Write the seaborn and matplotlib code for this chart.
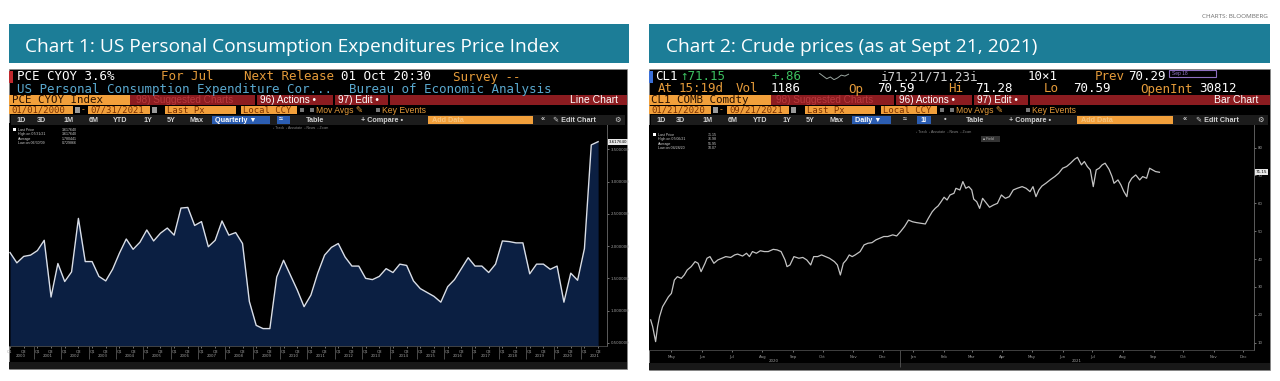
#!/usr/bin/env python3
"""
Recreate the two Bloomberg terminal screenshots (core PCE and crude)
"""

import matplotlib
matplotlib.use("Agg")
import matplotlib.pyplot as plt
from matplotlib.patches import Rectangle
from matplotlib import font_manager as fm
import numpy as np
import pandas as pd
import seaborn as sns

W, H = 1280, 381

# Chart 1: PCE CYOY Index, quarterly from 2000Q1 to 2021Q3
pce_first_year = 2000
pce_values = [1.90, 1.74, 1.84, 1.86, 1.93, 2.09, 1.21, 1.73, 1.45, 1.60,
              2.43, 1.76, 1.76, 1.53, 1.46, 1.64, 1.89, 2.11, 1.95, 2.06,
              2.25, 2.08, 2.20, 2.28, 2.17, 2.59, 2.60, 2.32, 2.38, 1.99,
              2.09, 2.39, 2.17, 2.21, 2.04, 1.14, 0.77, 0.72, 0.72, 1.52,
              1.78, 1.55, 1.32, 1.06, 1.24, 1.58, 1.86, 1.98, 2.04, 1.83,
              1.69, 1.69, 1.50, 1.48, 1.53, 1.65, 1.59, 1.72, 1.70, 1.46,
              1.34, 1.28, 1.22, 1.13, 1.37, 1.48, 1.65, 1.82, 1.69, 1.69,
              1.59, 1.72, 2.08, 2.07, 2.05, 2.05, 1.57, 1.72, 1.72, 1.64,
              1.69, 1.13, 1.58, 1.47, 1.96, 3.57, 3.62]
pce_yticks = [0.5, 1.0, 1.5, 2.0, 2.5, 3.0, 3.5]
pce_last = "3.617640"
pce_legend = [("Last Price", "3.617640"), ("High on 07/31/21", "3.617640"),
              ("Average", "1.780441"), ("Low on 06/30/09", "0.729866")]

# Chart 2: CL1 front-month crude, x = days after crude_base
crude_base = "2020-05-01"
crude_days = [-7, -5, -2, 0, 2, 5, 8, 11, 14, 17,
              20, 24, 27, 30, 34, 38, 41, 44, 48, 50,
              53, 57, 61, 65, 69, 74, 78, 81, 86, 90,
              93, 96, 100, 104, 108, 112, 117, 121, 125, 129,
              131, 134, 138, 143, 147, 151, 155, 158, 162, 166,
              170, 174, 179, 182, 185, 188, 191, 194, 197, 200,
              205, 209, 213, 217, 221, 225, 229, 233, 238, 242,
              246, 250, 254, 258, 262, 267, 271, 274, 278, 281,
              284, 287, 290, 293, 296, 300, 302, 306, 309, 312,
              315, 318, 320, 323, 326, 329, 333, 336, 340, 344,
              348, 352, 356, 360, 364, 369, 373, 377, 380, 383,
              386, 389, 393, 398, 402, 406, 410, 414, 418, 422,
              425, 429, 432, 435, 438, 441, 444, 447, 450, 453,
              457, 460, 462, 466, 469, 472, 475, 477, 480, 484,
              488, 491, 495, 498, 501, 504, 508]
crude_close = [18.2, 15.8, 10.4, 15.8, 19.4, 22.9, 24.7, 26.5, 27.7, 32.5,
               33.7, 33.1, 34.3, 36.1, 37.3, 39.1, 38.5, 35.5, 38.5, 40.3,
               40.9, 38.5, 39.7, 40.3, 40.9, 40.6, 41.5, 41.8, 41.1, 42.1,
               40.9, 42.7, 42.1, 43.0, 42.7, 42.7, 43.5, 43.3, 42.7, 39.7,
               37.3, 37.9, 40.9, 40.3, 40.6, 39.7, 37.9, 40.9, 40.9, 41.5,
               40.9, 40.3, 39.1, 37.9, 34.3, 38.5, 39.7, 41.5, 40.9, 41.5,
               42.7, 45.1, 45.7, 45.9, 46.9, 47.5, 48.1, 48.1, 48.7, 48.3,
               49.9, 51.7, 54.0, 53.4, 53.1, 52.8, 52.6, 54.6, 57.0, 58.2,
               59.1, 60.6, 62.2, 61.2, 63.0, 63.6, 65.4, 64.8, 67.8, 65.4,
               66.0, 64.8, 61.5, 60.6, 58.2, 61.8, 60.0, 58.6, 59.4, 60.0,
               63.0, 61.8, 62.4, 64.8, 65.4, 66.0, 65.4, 64.2, 66.0, 62.4,
               64.8, 66.2, 67.2, 68.6, 69.6, 70.8, 72.6, 73.2, 74.4, 75.8,
               76.5, 73.8, 75.0, 73.2, 72.0, 66.0, 72.0, 72.6, 73.8, 74.4,
               72.2, 69.6, 67.2, 68.4, 66.6, 64.2, 62.4, 67.2, 69.0, 70.2,
               68.4, 69.6, 69.0, 72.6, 72.0, 71.4, 71.15]
crude_yticks = [10, 20, 30, 40, 50, 60, 70, 80]
crude_months = ["May", "Jun", "Jul", "Aug", "Sep", "Oct", "Nov", "Dec",
                "Jan", "Feb", "Mar", "Apr", "May", "Jun", "Jul", "Aug",
                "Sep", "Oct", "Nov", "Dec"]
crude_spark = [71.2, 70.9, 70.6, 70.8, 70.5, 70.7, 71.0, 70.9, 71.1]
crude_legend = [("Last Price", "71.15"), ("High on 07/06/21", "76.98"),
                ("Average", "51.95"), ("Low on 04/28/20", "10.07")]

TEAL = "#1c7d97"
ORANGE = "#f2a03b"
ORANGE_TXT = "#e59b3a"
BOX_TXT = "#7a3000"
RED_BAR = "#8c1c20"
DIM_RED = "#b8393d"
BLUE_TXT = "#5aa9cf"
GREEN = "#3cc060"
BTN_BLUE = "#2b5db2"
TOOL_BG = "#1c1c1c"
TOOL_TXT = "#d2d2d2"
AXIS_TXT = "#a0a0a0"


def pick_font(names, default="DejaVu Sans"):
    """Return the first installed family out of names"""
    for name in names:
        try:
            fm.findfont(fm.FontProperties(family=name), fallback_to_default=False)
            return name
        except Exception:
            pass
    return default


MONO = [pick_font(["DejaVu Sans Mono", "Liberation Mono"]), "DejaVu Sans"]
# Liberation Sans for the letters, DejaVu Sans for the icons it lacks
SANS = [pick_font(["Liberation Sans", "DejaVu Sans"]), "DejaVu Sans", "Noto Sans"]
TITLE_FONT = pick_font(["Liberation Sans Narrow", "Open Sans", "Lato"])


def rect(fig, x0, y0, x1, y1, fc, ec="none", lw=0.0, z=1):
    """Rectangle in pixel coordinates (origin top-left)"""
    fig.add_artist(Rectangle((x0 / W, 1 - y1 / H), (x1 - x0) / W, (y1 - y0) / H,
                             transform=fig.transFigure, facecolor=fc,
                             edgecolor=ec, linewidth=lw, zorder=z))


def put(fig, x, y, s, color, size, family=MONO, ha="left", va="center", weight="normal"):
    """Text in pixel coordinates"""
    return fig.text(x / W, 1 - y / H, s, color=color, fontsize=size,
                    family=family, ha=ha, va=va, fontweight=weight, zorder=5)


def toolbar(fig, x0, x1, items, boxes):
    """Bottom button strip of the terminal header"""
    rect(fig, x0, 115, x1, 125, TOOL_BG)
    for bx0, bx1, color in boxes:
        rect(fig, bx0, 116, bx1, 124, color)
    for x, s, color in items:
        put(fig, x, 120, s, color, 5.2, SANS, weight="bold")


def date_row(fig, boxes, extras):
    """Orange date / field selectors"""
    for bx0, bx1, s in boxes:
        rect(fig, bx0, 106, bx1, 114, ORANGE)
        put(fig, bx0 + 2, 110, s, BOX_TXT, 6.4)
    for x, s in extras:
        if s == "cal":
            rect(fig, x, 107, x + 5, 113, "#9a9a9a")
        elif s == "sq":
            rect(fig, x, 108, x + 4, 112, "#777777")
        else:
            put(fig, x, 110, s, ORANGE_TXT, 6.2, SANS)


def chart_legend(fig, x, y, rows):
    """Tiny legend in the top-left corner of the plot"""
    rect(fig, x, y - 2, x + 3, y + 1, "white", z=4)
    for i, (label, value) in enumerate(rows):
        put(fig, x + 5, y + i * 4.3, label, "#cfcfcf", 2.6, SANS)
        put(fig, x + 64, y + i * 4.3, value, "#cfcfcf", 2.6, SANS, ha="right")


def style_axes(ax):
    ax.set_facecolor("black")
    for side in ["top", "left"]:
        ax.spines[side].set_visible(False)
    ax.spines["right"].set_color("#6a6a6a")
    ax.spines["bottom"].set_color("#4a4a4a")
    ax.spines["right"].set_linewidth(0.6)
    ax.spines["bottom"].set_linewidth(0.6)
    ax.yaxis.tick_right()
    ax.tick_params(axis="y", labelsize=2.8, colors=AXIS_TXT, length=1.5, pad=1, width=0.5)
    ax.tick_params(axis="x", labelsize=2.8, colors=AXIS_TXT, length=1.5, pad=1, width=0.5)
    ax.set_xlabel("")
    ax.set_ylabel("")


def draw_pce(fig):
    """Chart 1 terminal"""
    rect(fig, 9, 69, 627, 369, "black", ec="#8a8a8a", lw=0.5, z=-5)
    rect(fig, 9, 362, 627, 369, "#181818", z=-4)

    # header rows
    rect(fig, 9, 71, 13, 83, "#c0282d")
    put(fig, 17, 77, "PCE CYOY 3.6%", "white", 9)
    put(fig, 161, 77, "For Jul", ORANGE_TXT, 9)
    put(fig, 244, 77, "Next Release", ORANGE_TXT, 9)
    put(fig, 341, 77, "01 Oct 20:30", "white", 9)
    put(fig, 453, 77, "Survey --", ORANGE_TXT, 9)
    put(fig, 17, 89, "US Personal Consumption Expenditure Cor...", BLUE_TXT, 9)
    put(fig, 349, 89, "Bureau of Economic Analysis", BLUE_TXT, 9)

    rect(fig, 9, 95, 130, 105, ORANGE)
    put(fig, 12, 100, "PCE CYOY Index", "#2a1200", 7.8)
    rect(fig, 130, 95, 627, 105, RED_BAR)
    for sx in [255, 333, 388]:
        rect(fig, sx, 95, sx + 1.5, 105, "black")
    put(fig, 136, 100, "98) Suggested Charts", DIM_RED, 7.2, SANS)
    put(fig, 260, 100, "96) Actions \u2022", "white", 7.2, SANS)
    put(fig, 338, 100, "97) Edit \u2022", "white", 7.2, SANS)
    put(fig, 618, 100, "Line Chart", "white", 7.5, SANS, ha="right")

    date_row(fig, [(9, 73, "01/01/2000"), (88, 150, "07/31/2021"),
                   (165, 236, "Last Px"), (241, 297, "Local CCY")],
             [(75, "cal"), (82, "-"), (152, "cal"), (300, "sq"), (310, "sq"),
              (316, "Mov Avgs \u270e"), (376, "sq"), (382, "Key Events")])

    toolbar(fig, 11, 625,
            [(16, "1D", TOOL_TXT), (37, "3D", TOOL_TXT), (63, "1M", TOOL_TXT),
             (89, "6M", TOOL_TXT), (113, "YTD", TOOL_TXT), (143, "1Y", TOOL_TXT),
             (167, "5Y", TOOL_TXT), (190, "Max", TOOL_TXT),
             (215, "Quarterly \u25bc", "white"), (279, "\u2248", "white"),
             (306, "Table", TOOL_TXT),
             (361, "+ Compare \u2022", TOOL_TXT), (432, "Add Data", "#f8c47c"),
             (541, "\u00ab", TOOL_TXT), (553, "\u270e Edit Chart", TOOL_TXT),
             (614, "\u2699", TOOL_TXT)],
            [(212, 270, BTN_BLUE), (277, 290, BTN_BLUE), (428, 533, ORANGE)])

    # plot
    ax = fig.add_axes([9 / W, 1 - 346 / H, (607 - 9) / W, (346 - 123) / H])
    pce = pd.DataFrame({"q": np.arange(len(pce_values)), "value": pce_values})
    y0 = 0.45
    ax.fill_between(pce["q"], pce["value"], y0, color="#0b1f42", lw=0)
    sns.lineplot(data=pce, x="q", y="value", ax=ax, color="#d9dee8", lw=1.0)
    ax.set_ylim(y0, 3.91)
    ax.set_xlim(-0.15, len(pce_values) - 1 + 1.3)
    style_axes(ax)
    ax.set_yticks(pce_yticks)
    ax.set_yticklabels([f"{v:.6f}" for v in pce_yticks])

    n_years = len(pce_values) // 4 + 1
    years = [pce_first_year + i for i in range(n_years)]
    q_ticks = [i for i in range(len(pce_values)) if i % 2 == 0]
    ax.set_xticks(q_ticks)
    ax.set_xticklabels(["Q1" if i % 4 == 0 else "Q3" for i in q_ticks])
    ax.set_xticks([4 * i - 0.5 for i in range(1, n_years)], minor=True)
    ax.tick_params(axis="x", which="minor", length=9, color="#555555", width=0.6)
    sec = ax.secondary_xaxis("bottom")
    sec.set_xticks([4 * i + 1.5 for i in range(n_years)])
    sec.set_xticklabels([str(y) for y in years])
    sec.tick_params(length=0, pad=6, labelsize=2.8, colors=AXIS_TXT)
    sec.spines["bottom"].set_visible(False)

    ax.text(1.003, pce_values[-1], pce_last, transform=ax.get_yaxis_transform(),
            fontsize=2.8, color="black", va="center", ha="left", clip_on=False,
            bbox=dict(facecolor="#e8e8e8", edgecolor="none", pad=0.6))

    chart_legend(fig, 13, 130, pce_legend)
    put(fig, 273, 128, "\u25e6 Track  \u25e6 Annotate  \u25e6 News  \u25e6 Zoom", "#8a8a8a", 2.5, SANS)


def draw_crude(fig):
    """Chart 2 terminal"""
    rect(fig, 649, 69, 1270, 370, "black", ec="#8a8a8a", lw=0.5, z=-5)
    rect(fig, 649, 363, 1270, 370, "#181818", z=-4)

    rect(fig, 649, 71, 653, 83, "#3a6fd8")
    put(fig, 655, 77, "CL1", "white", 9)
    put(fig, 680, 77, "\u219171.15", GREEN, 9)
    put(fig, 771, 77, "+.86", GREEN, 9)
    put(fig, 881, 77, "i71.21/71.23i", "#d0d0d0", 9)
    put(fig, 1028, 77, "10\u00d71", "white", 9)
    put(fig, 1095, 77, "Prev", ORANGE_TXT, 9)
    put(fig, 1128, 77, "70.29", "white", 9)
    rect(fig, 1169, 70, 1216, 77, "none", ec="#8e6fc0", lw=0.8, z=4)
    put(fig, 1172, 73.5, "Sep 18", "#9a7ad0", 3.5, SANS)

    spark_ax = fig.add_axes([818 / W, 1 - 80 / H, 32 / W, 7 / H])
    sns.lineplot(x=np.arange(len(crude_spark)), y=crude_spark, ax=spark_ax,
                 color="#9aa6a0", lw=0.7)
    spark_ax.axis("off")

    for x, s, c in [(658, "At", ORANGE_TXT), (679, "15:19d", ORANGE_TXT),
                    (736, "Vol", ORANGE_TXT), (771, "1186", "white"),
                    (848, "Op", ORANGE_TXT), (877, "70.59", "white"),
                    (948, "Hi", ORANGE_TXT), (975, "71.28", "white"),
                    (1044, "Lo", ORANGE_TXT), (1073, "70.59", "white"),
                    (1140, "OpenInt", ORANGE_TXT), (1199, "30812", "white")]:
        put(fig, x, 89, s, c, 9)

    rect(fig, 649, 95, 771, 105, ORANGE)
    put(fig, 651, 100, "CL1 COMB Comdty", "#2a1200", 7.8)
    rect(fig, 771, 95, 1270, 105, RED_BAR)
    for sx in [894, 972, 1028]:
        rect(fig, sx, 95, sx + 1.5, 105, "black")
    put(fig, 776, 100, "98) Suggested Charts", DIM_RED, 7.2, SANS)
    put(fig, 899, 100, "96) Actions \u2022", "white", 7.2, SANS)
    put(fig, 977, 100, "97) Edit \u2022", "white", 7.2, SANS)
    put(fig, 1258, 100, "Bar Chart", "white", 7.5, SANS, ha="right")

    date_row(fig, [(649, 711, "01/21/2020"), (727, 789, "09/21/2021"),
                   (805, 875, "Last Px"), (881, 937, "Local CCY")],
             [(713, "cal"), (720, "-"), (791, "cal"), (940, "sq"), (950, "sq"),
              (956, "Mov Avgs \u270e"), (1026, "sq"), (1032, "Key Events")])

    toolbar(fig, 651, 1268,
            [(656, "1D", TOOL_TXT), (676, "3D", TOOL_TXT), (702, "1M", TOOL_TXT),
             (728, "6M", TOOL_TXT), (753, "YTD", TOOL_TXT), (782, "1Y", TOOL_TXT),
             (806, "5Y", TOOL_TXT), (830, "Max", TOOL_TXT),
             (855, "Daily \u25bc", "white"), (903, "\u2248", TOOL_TXT),
             (920, "1l", "white"), (944, "\u2022", TOOL_TXT),
             (966, "Table", TOOL_TXT), (1009, "+ Compare \u2022", TOOL_TXT),
             (1081, "Add Data", "#f8c47c"), (1183, "\u00ab", TOOL_TXT),
             (1196, "\u270e Edit Chart", TOOL_TXT), (1257, "\u2699", TOOL_TXT)],
            [(852, 891, BTN_BLUE), (917, 931, BTN_BLUE), (1077, 1173, ORANGE)])

    # plot
    base = pd.Timestamp(crude_base)
    crude = pd.DataFrame({"date": base + pd.to_timedelta(crude_days, unit="D"),
                          "close": crude_close})
    ax = fig.add_axes([649 / W, 1 - 350 / H, (1254 - 649) / W, (350 - 125) / H])
    sns.lineplot(data=crude, x="date", y="close", ax=ax, color="#c4c4c4", lw=0.9)
    ax.set_xlim(base - pd.Timedelta(days=8.7), base + pd.Timedelta(days=603.7))
    ax.set_ylim(7.4, 88.1)
    style_axes(ax)
    ax.set_yticks(crude_yticks)
    ax.set_yticklabels([str(v) for v in crude_yticks])

    month_mid = pd.date_range("2020-05-01", periods=len(crude_months), freq="MS") + pd.Timedelta(days=14)
    ax.set_xticks(month_mid)
    ax.set_xticklabels(crude_months)
    ax.tick_params(axis="x", pad=2)
    ax.set_xticks([pd.Timestamp("2021-01-01")], minor=True)
    ax.tick_params(axis="x", which="minor", length=12, color="#555555", width=0.6)
    sec = ax.secondary_xaxis("bottom")
    sec.set_xticks([base + pd.Timedelta(days=118), base + pd.Timedelta(days=424)])
    sec.set_xticklabels(["2020", "2021"])
    sec.tick_params(length=0, pad=6.5, labelsize=2.8, colors=AXIS_TXT)
    sec.spines["bottom"].set_visible(False)

    ax.text(1.003, crude_close[-1], f"{crude_close[-1]:.2f}", transform=ax.get_yaxis_transform(),
            fontsize=3, color="black", va="center", ha="left", clip_on=False,
            bbox=dict(facecolor="#e8e8e8", edgecolor="none", pad=0.6))

    chart_legend(fig, 653, 135, crude_legend)
    put(fig, 916, 132, "\u25e6 Track  \u25e6 Annotate  \u25e6 News  \u25e6 Zoom", "#8a8a8a", 2.5, SANS)
    rect(fig, 981, 136, 1000, 142, "#333333", z=4)
    put(fig, 983, 139, "\u25a0 Field", "#bbbbbb", 2.5, SANS)


def main():
    fig = plt.figure(figsize=(W / 100, H / 100), dpi=100)
    fig.patch.set_facecolor("white")

    put(fig, 1268, 16, "CHARTS: BLOOMBERG", "#6b6b6b", 4.6, TITLE_FONT, ha="right")

    rect(fig, 9, 24, 629, 63, TEAL)
    rect(fig, 649, 24, 1270, 63, TEAL)
    t1 = put(fig, 25, 52, "Chart 1: US Personal Consumption Expenditures Price Index",
             "white", 16, TITLE_FONT, va="baseline")
    t2 = put(fig, 666, 52, "Chart 2: Crude prices (as at Sept 21, 2021)",
             "white", 16, TITLE_FONT, va="baseline")

    fig.canvas.draw()
    renderer = fig.canvas.get_renderer()
    size = 16 * 533 / t1.get_window_extent(renderer).width
    t1.set_fontsize(size)
    t2.set_fontsize(size)

    draw_pce(fig)
    draw_crude(fig)

    fig.savefig("out.png", dpi=100, facecolor="white")
    plt.close(fig)


if __name__ == "__main__":
    main()
